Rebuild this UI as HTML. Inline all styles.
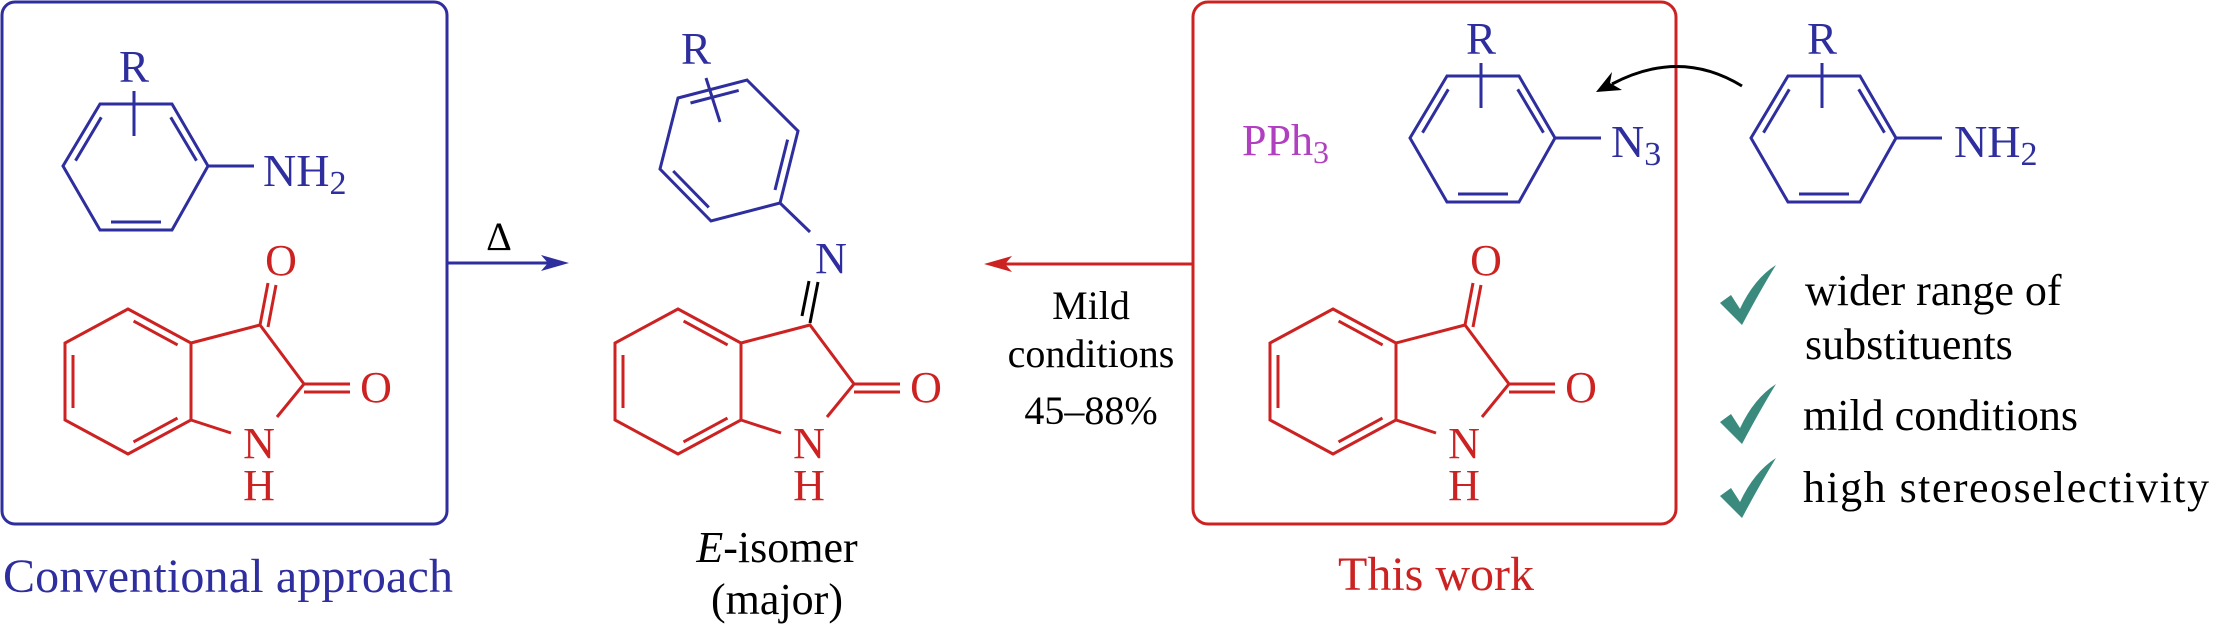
<!DOCTYPE html>
<html><head><meta charset="utf-8"><style>
html,body{margin:0;padding:0;background:#fff;}
svg{display:block;}
text{font-family:"Liberation Serif",serif;}
</style></head><body>
<svg width="2213" height="630" viewBox="0 0 2213 630" xmlns="http://www.w3.org/2000/svg">
<defs>
<g id="anil" fill="none" stroke="#2e2e9e" stroke-width="3">
  <polygon points="100,104 172,104 208,166 172,230 100,230 63,166"/>
  <line x1="75.5" y1="160.7" x2="101.3" y2="117.3"/>
  <line x1="170.7" y1="117.3" x2="196.5" y2="160.7"/>
  <line x1="111" y1="222" x2="161" y2="222"/>
  <line x1="134" y1="91" x2="134" y2="136"/>
  <line x1="208" y1="166" x2="254" y2="166"/>
</g>
<g id="benz" fill="none" stroke="#cc2222" stroke-width="3">
  <polygon points="128,309 191,343 191,420 128,454 65,420 65,343"/>
  <line x1="133.6" y1="321.1" x2="177.6" y2="344.9"/>
  <line x1="73" y1="355" x2="73" y2="408"/>
  <line x1="133.5" y1="441.9" x2="177.5" y2="418.1"/>
  <polyline points="191,343 260,325 304,384 277,417"/>
  <line x1="191" y1="420" x2="231" y2="433"/>
  <line x1="304" y1="384" x2="350" y2="384"/>
  <line x1="304" y1="392" x2="350" y2="392"/>
</g>
<g id="isat">
  <use href="#benz"/>
  <g stroke="#cc2222" stroke-width="3">
    <line x1="260" y1="325" x2="268" y2="283"/>
    <line x1="268" y1="327" x2="276" y2="285"/>
  </g>
  <g fill="#cc2222" font-size="44" text-anchor="middle">
    <text x="281" y="275">O</text>
  </g>
</g>
<g id="nh" fill="#cc2222" font-size="44" text-anchor="middle">
  <text x="259" y="458">N</text>
  <text x="259" y="500">H</text>
  <text x="376" y="402">O</text>
</g>
<path id="chk" d="M0,38 L11,30 L20,44 Q34,14 56,0 Q40,26 22,60 Z" fill="#3a8a7e"/>
</defs>

<rect x="2" y="2" width="445" height="522" rx="13" fill="none" stroke="#2e2e9e" stroke-width="3"/>
<use href="#anil"/>
<text x="134" y="82" font-size="45" fill="#2e2e9e" text-anchor="middle">R</text>
<text x="263" y="186" font-size="46" fill="#2e2e9e">NH<tspan font-size="34" dy="8">2</tspan></text>
<use href="#isat"/>
<use href="#nh"/>
<text x="3" y="592" font-size="48" fill="#2e2e9e" textLength="450">Conventional approach</text>

<line x1="448" y1="263" x2="555" y2="263" stroke="#2e2e9e" stroke-width="3"/>
<polygon points="569,263 541,255 548,263 541,271" fill="#2e2e9e"/>
<text x="499" y="250" font-size="40" text-anchor="middle" fill="#000">Δ</text>

<g fill="none" stroke="#2e2e9e" stroke-width="3">
  <polygon points="678,98 747,80 798,131 780,203 711,221 660,169"/>
  <line x1="690.5" y1="103" x2="738.7" y2="90.4"/>
  <line x1="787.6" y1="139.6" x2="775" y2="190"/>
  <line x1="708.8" y1="207.4" x2="673.2" y2="171"/>
  <line x1="706" y1="78" x2="720" y2="122"/>
  <line x1="780" y1="203" x2="810" y2="232"/>
</g>
<text x="696" y="64" font-size="45" fill="#2e2e9e" text-anchor="middle">R</text>
<text x="831" y="273" font-size="44" fill="#2e2e9e" text-anchor="middle">N</text>
<g stroke="#000" stroke-width="3">
  <line x1="818" y1="282" x2="810" y2="323"/>
  <line x1="809" y1="281" x2="802" y2="316"/>
</g>
<g transform="translate(550,0)">
  <use href="#benz"/>
  <use href="#nh"/>
</g>
<text x="777" y="562" font-size="44" text-anchor="middle" fill="#000"><tspan font-style="italic">E</tspan>-isomer</text>
<text x="777" y="614" font-size="44" text-anchor="middle" fill="#000">(major)</text>

<line x1="1193" y1="264" x2="998" y2="264" stroke="#cc2222" stroke-width="3"/>
<polygon points="984,264 1012,256 1005,264 1012,272" fill="#cc2222"/>
<g font-size="40" text-anchor="middle" fill="#000">
  <text x="1091" y="319">Mild</text>
  <text x="1091" y="367">conditions</text>
  <text x="1091" y="424">45–88%</text>
</g>

<rect x="1193" y="2" width="483" height="522" rx="15" fill="none" stroke="#cc2222" stroke-width="3"/>
<text x="1242" y="155" font-size="44" fill="#b040c0">PPh<tspan font-size="32" dy="8">3</tspan></text>
<use href="#anil" transform="translate(1347,-28)"/>
<text x="1481" y="54" font-size="45" fill="#2e2e9e" text-anchor="middle">R</text>
<text x="1611" y="157" font-size="46" fill="#2e2e9e">N<tspan font-size="34" dy="8">3</tspan></text>
<g transform="translate(1205,0)">
  <use href="#isat"/>
  <use href="#nh"/>
</g>
<text x="1436" y="590" font-size="48" fill="#cc2222" text-anchor="middle">This work</text>

<use href="#anil" transform="translate(1688,-28)"/>
<text x="1822" y="54" font-size="45" fill="#2e2e9e" text-anchor="middle">R</text>
<text x="1954" y="157" font-size="46" fill="#2e2e9e">NH<tspan font-size="34" dy="8">2</tspan></text>

<path d="M1742,86 Q1680,48 1612,84" fill="none" stroke="#000" stroke-width="3"/>
<polygon points="1596,92 1612,72 1610,83 1622,90" fill="#000"/>

<use href="#chk" transform="translate(1720,265)"/>
<use href="#chk" transform="translate(1720,384)"/>
<use href="#chk" transform="translate(1720,458)"/>
<g font-size="44" fill="#000">
  <text x="1805" y="305">wider range of</text>
  <text x="1805" y="359">substituents</text>
  <text x="1803" y="430">mild conditions</text>
  <text x="1803" y="502" textLength="406">high stereoselectivity</text>
</g>
</svg>
</body></html>
